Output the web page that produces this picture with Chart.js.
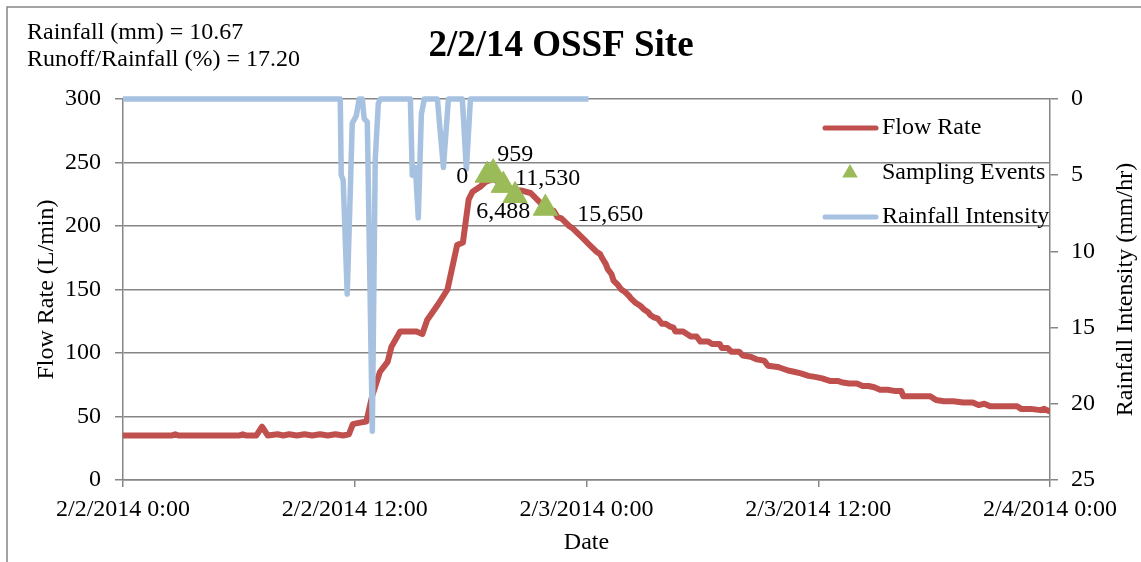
<!DOCTYPE html>
<html>
<head>
<meta charset="utf-8">
<title>2/2/14 OSSF Site</title>
<script src="https://cdn.jsdelivr.net/npm/chart.js@4.4.1/dist/chart.umd.min.js"></script>
<style>
  html, body { margin: 0; padding: 0; background: #fff; }
  #wrap { width: 1141px; height: 562px; }
</style>
</head>
<body>
<div id="wrap"><canvas id="ossf-chart" width="1141" height="562"></canvas></div>
<script>
// Hydrogramme 2/2/14 - site OSSF
// heures depuis 2/2/2014 0:00

// Débit (L/min)
const flowHours = [
  0, 2.5, 2.7, 2.9, 6.0, 6.2, 6.4, 6.9, 7.2, 7.5, 8.0, 8.3, 8.6, 9.0, 9.4, 9.8, 10.2, 10.6, 11.0, 11.4, 11.7,
  11.9, 12.2, 12.6, 12.9, 13.3, 13.7, 13.9, 14.35, 15.2, 15.5, 15.75, 16.3, 16.8, 17.3, 17.6, 17.9, 18.1, 18.5,
  18.8, 19.2, 19.7, 20.3, 20.6, 21.1, 21.5, 21.9, 22.1, 22.3, 22.5, 22.7, 22.9, 23.1, 23.3, 23.5, 23.7, 23.9,
  24.1, 24.3, 24.5, 24.7, 24.8, 25.0, 25.1, 25.3, 25.4, 25.6, 25.8, 26.0, 26.2, 26.3, 26.5, 26.7, 26.8, 27.0,
  27.2, 27.3, 27.5, 27.7, 27.9, 28.1, 28.3, 28.5, 28.6, 29.0, 29.2, 29.4, 29.7, 29.9, 30.3, 30.5, 30.9, 31.0,
  31.3, 31.5, 31.9, 32.1, 32.5, 32.8, 33.2, 33.4, 33.9, 34.1, 34.5, 34.8, 35.1, 35.5, 35.9, 36.2, 36.6, 37.0,
  37.2, 37.6, 38.0, 38.3, 38.6, 38.9, 39.2, 39.6, 40.0, 40.3, 40.4, 41.0, 41.8, 42.1, 42.5, 43.0, 43.5, 44.0,
  44.3, 44.6, 44.9, 45.4, 45.9, 46.3, 46.5, 47.0, 47.5, 47.7, 48.0
];
const flowValues = [
  35, 35, 36, 35, 35, 36, 35, 35, 42, 35, 36, 35, 36, 35, 36, 35, 36, 35, 36, 35, 36,
  44, 45, 46, 66, 85, 93, 105, 117, 117, 115, 126, 138, 150, 185, 187, 221, 227, 231,
  235, 237, 232, 228, 228, 226, 220, 214, 212, 212, 207, 206, 203, 200, 198, 195, 192, 189,
  186, 183, 180, 178, 175, 170, 166, 162, 157, 154, 150, 148, 145, 143, 140, 138, 137, 134,
  132, 130, 128, 127, 123, 123, 121, 120, 117, 117, 115, 113, 113, 109, 109, 107, 107, 104,
  104, 101, 101, 98, 97, 95, 94, 90, 89, 88, 86, 85, 84, 82, 81, 80, 78, 78,
  77, 76, 76, 74, 74, 73, 71, 71, 70, 70, 66, 66, 66, 63, 62, 62, 61, 61,
  59, 60, 58, 58, 58, 58, 56, 56, 55, 56, 54
];

// Intensité de pluie (mm/hr), axe de droite inversé
const rainHours = [
  0, 11.25, 11.30, 11.40, 11.61, 11.77, 11.87, 12.08, 12.23, 12.39, 12.49, 12.65, 12.91, 13.06, 13.22, 13.32,
  14.88, 14.98, 15.14, 15.29, 15.45, 15.60, 16.28, 16.59, 16.85, 17.57, 17.78, 17.99, 24.1
];
const rainValues = [
  0, 0, 5.0, 5.3, 12.8, 6.0, 1.6, 1.1, 0, 0, 1.3, 1.5, 21.8, 4.0, 0.3, 0,
  0, 5.0, 4.5, 7.8, 1.0, 0, 0, 4.5, 0, 0, 4.6, 0, 0
];

// Prélèvements (volume cumulé en L)
const sampleHours = [18.86, 19.17, 19.69, 20.3, 21.87];
const sampleFlow = [240, 242, 232, 224, 214];
const sampleLabels = ['0', '959', '6,488', '11,530', '15,650'];

// Graduations
const xTickHours = [0, 12, 24, 36, 48];
const xTickLabels = ['2/2/2014 0:00', '2/2/2014 12:00', '2/3/2014 0:00', '2/3/2014 12:00', '2/4/2014 0:00'];

const noteLines = ['Rainfall (mm) = 10.67', 'Runoff/Rainfall (%) = 17.20'];

const FLOW_COLOR = '#C0504D';
const RAIN_COLOR = '#A7C1E0';
const SAMPLE_COLOR = '#9BBB59';
const GRID_COLOR = '#868686';
const SERIF = '"Liberation Serif", "Times New Roman", serif';

Chart.defaults.font.family = SERIF;
Chart.defaults.font.size = 24;
Chart.defaults.color = '#000';

// placement des étiquettes des prélèvements (décalage par rapport au marqueur)
const labelPlacement = [
  { dx: -19, dy: 2, align: 'right' },
  { dx: 4, dy: -18, align: 'left' },
  { dx: 0, dy: 26, align: 'center' },
  { dx: 0, dy: -17, align: 'left' },
  { dx: 32, dy: 6, align: 'left' }
];

function toPoints(xs, ys) {
  return xs.map((x, i) => ({ x: x, y: ys[i] }));
}

// Texte, cadre, légende et étiquettes dessinés à la main
const decorPlugin = {
  id: 'ossfDecor',
  afterDatasetsDraw(chart) {
    const ctx = chart.ctx;
    const meta = chart.getDatasetMeta(2);
    ctx.save();
    ctx.font = '24px ' + SERIF;
    ctx.fillStyle = '#000';
    ctx.textBaseline = 'middle';
    meta.data.forEach((pt, i) => {
      const p = labelPlacement[i];
      ctx.textAlign = p.align;
      ctx.fillText(sampleLabels[i], pt.x + p.dx, pt.y + p.dy);
    });
    ctx.restore();
  },
  afterDraw(chart) {
    const ctx = chart.ctx;
    const area = chart.chartArea;
    ctx.save();

    // cadre extérieur
    ctx.strokeStyle = GRID_COLOR;
    ctx.lineWidth = 1.5;
    ctx.beginPath();
    ctx.moveTo(7, chart.height);
    ctx.lineTo(7, 7);
    ctx.lineTo(chart.width, 7);
    ctx.stroke();

    // titre
    ctx.fillStyle = '#000';
    ctx.textBaseline = 'middle';
    ctx.textAlign = 'center';
    ctx.font = 'bold 37px ' + SERIF;
    ctx.fillText('2/2/14 OSSF Site', 561, 46);

    // notes en haut à gauche
    ctx.textAlign = 'left';
    ctx.font = '24px ' + SERIF;
    ctx.fillText(noteLines[0], 27, 33);
    ctx.fillText(noteLines[1], 27, 60);

    // titre de l'axe de droite (lu de bas en haut)
    ctx.save();
    ctx.translate(1126, (area.top + area.bottom) / 2);
    ctx.rotate(-Math.PI / 2);
    ctx.textAlign = 'center';
    ctx.fillText('Rainfall Intensity (mm/hr)', 0, 0);
    ctx.restore();

    // légende
    const ds = chart.data.datasets;
    const rows = [128, 173, 217];
    ctx.textAlign = 'left';
    [0, 2, 1].forEach((idx, r) => {
      const d = ds[idx];
      const y = rows[r];
      if (d.showLine === false) {
        ctx.fillStyle = d.backgroundColor;
        const rad = 9;
        ctx.beginPath();
        ctx.moveTo(850, y - rad);
        ctx.lineTo(850 + rad * 0.866, y + rad * 0.5);
        ctx.lineTo(850 - rad * 0.866, y + rad * 0.5);
        ctx.closePath();
        ctx.fill();
      } else {
        ctx.strokeStyle = d.borderColor;
        ctx.lineWidth = 5;
        ctx.lineCap = 'round';
        ctx.beginPath();
        ctx.moveTo(825, y);
        ctx.lineTo(876, y);
        ctx.stroke();
      }
      ctx.fillStyle = '#000';
      ctx.fillText(d.label, 882, y);
    });

    ctx.restore();
  }
};

new Chart(document.getElementById('ossf-chart'), {
  type: 'line',
  data: {
    datasets: [
      {
        label: 'Flow Rate',
        data: toPoints(flowHours, flowValues),
        yAxisID: 'y',
        borderColor: FLOW_COLOR,
        borderWidth: 6,
        borderJoinStyle: 'round',
        pointRadius: 0,
        tension: 0,
        order: 2
      },
      {
        label: 'Rainfall Intensity',
        data: toPoints(rainHours, rainValues),
        yAxisID: 'y2',
        borderColor: RAIN_COLOR,
        borderWidth: 5.5,
        borderJoinStyle: 'round',
        pointRadius: 0,
        tension: 0,
        clip: false,
        order: 1
      },
      {
        label: 'Sampling Events',
        data: toPoints(sampleHours, sampleFlow),
        yAxisID: 'y',
        showLine: false,
        pointStyle: 'triangle',
        pointRadius: 14,
        backgroundColor: SAMPLE_COLOR,
        borderColor: SAMPLE_COLOR,
        borderWidth: 1,
        order: 0
      }
    ]
  },
  options: {
    responsive: false,
    animation: false,
    devicePixelRatio: 1,
    layout: { padding: { top: 99, left: 0, right: 0, bottom: 0 } },
    plugins: {
      legend: { display: false },
      tooltip: { enabled: false }
    },
    scales: {
      x: {
        type: 'linear',
        min: 0,
        max: 48,
        afterFit: function(scale) { scale.height = 82; },
        afterBuildTicks: function(scale) {
          scale.ticks = xTickHours.map(v => ({ value: v }));
        },
        ticks: {
          maxRotation: 0,
          autoSkip: false,
          padding: 8,
          callback: function(value) {
            const i = xTickHours.indexOf(value);
            return i >= 0 ? xTickLabels[i] : '';
          }
        },
        grid: { drawOnChartArea: false, drawTicks: true, tickLength: 7, color: GRID_COLOR, lineWidth: 1.5 },
        border: { display: true, color: GRID_COLOR, width: 1.5 },
        title: { display: true, text: 'Date', padding: { top: 0, bottom: 5 } }
      },
      y: {
        position: 'left',
        min: 0,
        max: 300,
        afterFit: function(scale) { scale.width = 123; },
        ticks: { stepSize: 50, padding: 14 },
        grid: { color: GRID_COLOR, lineWidth: 1.5, tickLength: 8 },
        border: { display: true, color: GRID_COLOR, width: 1.5 },
        title: { display: true, text: 'Flow Rate (L/min)', padding: { top: 32, bottom: 0 } }
      },
      y2: {
        position: 'right',
        min: 0,
        max: 25,
        reverse: true,
        afterFit: function(scale) { scale.width = 91; },
        ticks: { stepSize: 5, padding: 13 },
        grid: { drawOnChartArea: false, color: GRID_COLOR, lineWidth: 1.5, tickLength: 8 },
        border: { display: true, color: GRID_COLOR, width: 1.5 }
      }
    }
  },
  plugins: [decorPlugin]
});
</script>
</body>
</html>
